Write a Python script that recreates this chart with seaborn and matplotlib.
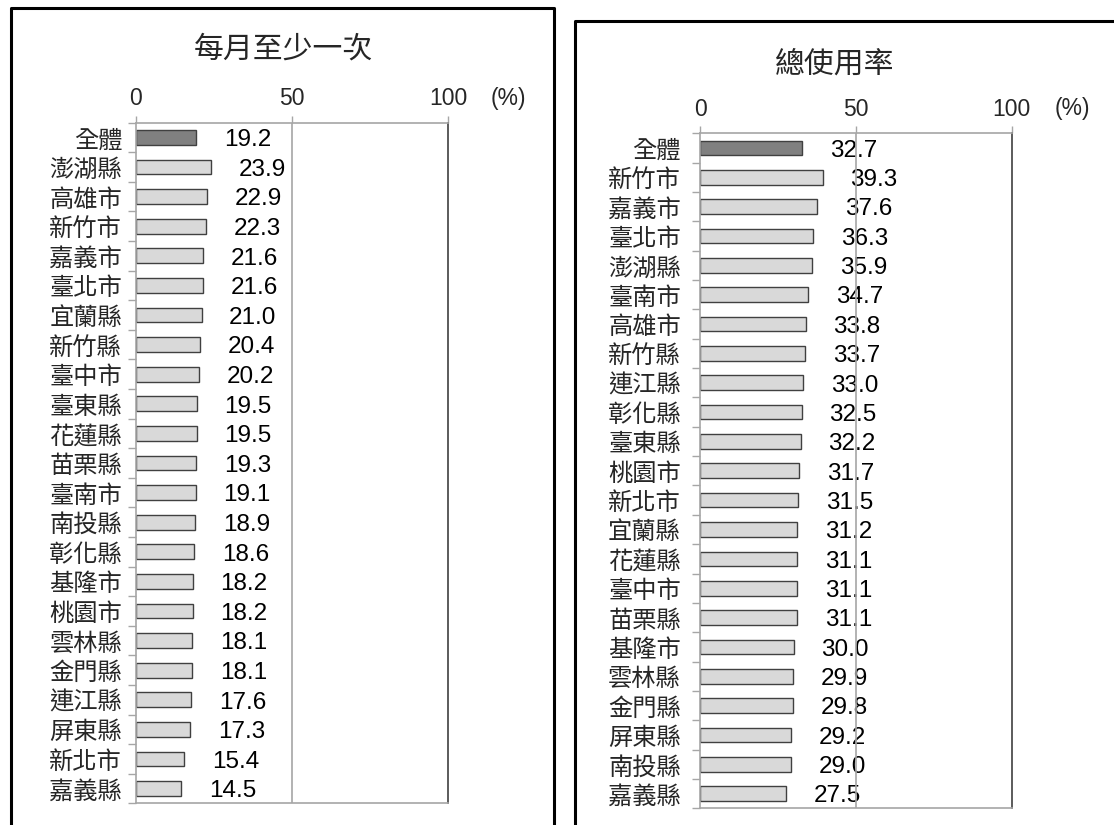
import seaborn as sns
import matplotlib.pyplot as plt
from matplotlib.lines import Line2D
import numpy as np

# 每月至少一次
left_cats = ["全體", "澎湖縣", "高雄市", "新竹市", "嘉義市", "臺北市", "宜蘭縣", "新竹縣",
             "臺中市", "臺東縣", "花蓮縣", "苗栗縣", "臺南市", "南投縣", "彰化縣", "基隆市",
             "桃園市", "雲林縣", "金門縣", "連江縣", "屏東縣", "新北市", "嘉義縣"]
left_vals = [19.2, 23.9, 22.9, 22.3, 21.6, 21.6, 21.0, 20.4, 20.2, 19.5, 19.5, 19.3,
             19.1, 18.9, 18.6, 18.2, 18.2, 18.1, 18.1, 17.6, 17.3, 15.4, 14.5]

# 總使用率
right_cats = ["全體", "新竹市", "嘉義市", "臺北市", "澎湖縣", "臺南市", "高雄市", "新竹縣",
              "連江縣", "彰化縣", "臺東縣", "桃園市", "新北市", "宜蘭縣", "花蓮縣", "臺中市",
              "苗栗縣", "基隆市", "雲林縣", "金門縣", "屏東縣", "南投縣", "嘉義縣"]
right_vals = [32.7, 39.3, 37.6, 36.3, 35.9, 34.7, 33.8, 33.7, 33.0, 32.5, 32.2, 31.7,
              31.5, 31.2, 31.1, 31.1, 31.1, 30.0, 29.9, 29.8, 29.2, 29.0, 27.5]

x_ticks = [0, 50, 100]

sns.set_theme(style="white")
plt.rcParams['font.family'] = ['Noto Sans CJK TC', 'DejaVu Sans']

W, H = 1114, 825
fig = plt.figure(figsize=(W / 100, H / 100), dpi=100)

grey = "#a6a6a6"
num_font = "Liberation Sans"


def draw_panel(rect, cats, vals, title, title_xy, pct_xy, ypad):
    ax = fig.add_axes(rect)
    colors = ["#808080"] + ["#d9d9d9"] * (len(cats) - 1)
    sns.barplot(x=vals, y=cats, hue=cats, palette=colors, legend=False,
                orient="h", width=0.5, edgecolor="#404040", linewidth=1.0,
                saturation=1, ax=ax)
    ax.set_xlim(0, 100)
    ax.set_ylim(len(cats) - 0.5, -0.5)
    ax.xaxis.tick_top()
    ax.set_xticks(x_ticks)
    ax.set_xticklabels([str(t) for t in x_ticks], fontfamily=num_font, fontsize=16.5)
    ax.tick_params(axis="x", length=5, width=1, color=grey, pad=4, top=True, bottom=False)
    ax.tick_params(axis="y", which="major", length=0, pad=ypad, labelsize=17.5)
    ax.set_yticks(np.arange(len(cats) + 1) - 0.5, minor=True)
    ax.tick_params(axis="y", which="minor", length=6, width=1, color=grey, left=True)
    ax.set_xlabel("")
    ax.set_ylabel("")
    for side in ["top", "left", "bottom"]:
        ax.spines[side].set_color(grey)
        ax.spines[side].set_linewidth(1.2)
    ax.spines["right"].set_color("#404040")
    ax.spines["right"].set_linewidth(1.2)
    ax.axvline(50, color=grey, linewidth=1.2, zorder=6)
    for i, v in enumerate(vals):
        ax.annotate(f"{v:.1f}", xy=(v, i), xytext=(37, -2), textcoords="offset points",
                    ha="center", va="center", fontsize=17.5, fontfamily=num_font,
                    color="black", zorder=4)
    fig.text(title_xy[0] / W, 1 - title_xy[1] / H, title, ha="center", va="center",
             fontsize=21.5)
    fig.text(pct_xy[0] / W, 1 - pct_xy[1] / H, "(%)", ha="center", va="center",
             fontsize=16.5, fontfamily=num_font)
    return ax


draw_panel([136 / W, 1 - 803.3 / H, 312 / W, 680.6 / H], left_cats, left_vals,
           "每月至少一次", (283, 49), (508, 98), 10)
draw_panel([700.3 / W, 1 - 808.3 / H, 311.4 / W, 675 / H], right_cats, right_vals,
           "總使用率", (835, 64), (1072, 109), 14)

# panel borders
def fig_line(xs, ys):
    fig.add_artist(Line2D([x / W for x in xs], [1 - y / H for y in ys],
                          color="black", linewidth=2.2, transform=fig.transFigure))

fig_line([11, 11, 554, 554], [840, 8, 8, 840])
fig_line([575, 575, 1130], [840, 21, 21])

fig.savefig("out.png", dpi=100)
